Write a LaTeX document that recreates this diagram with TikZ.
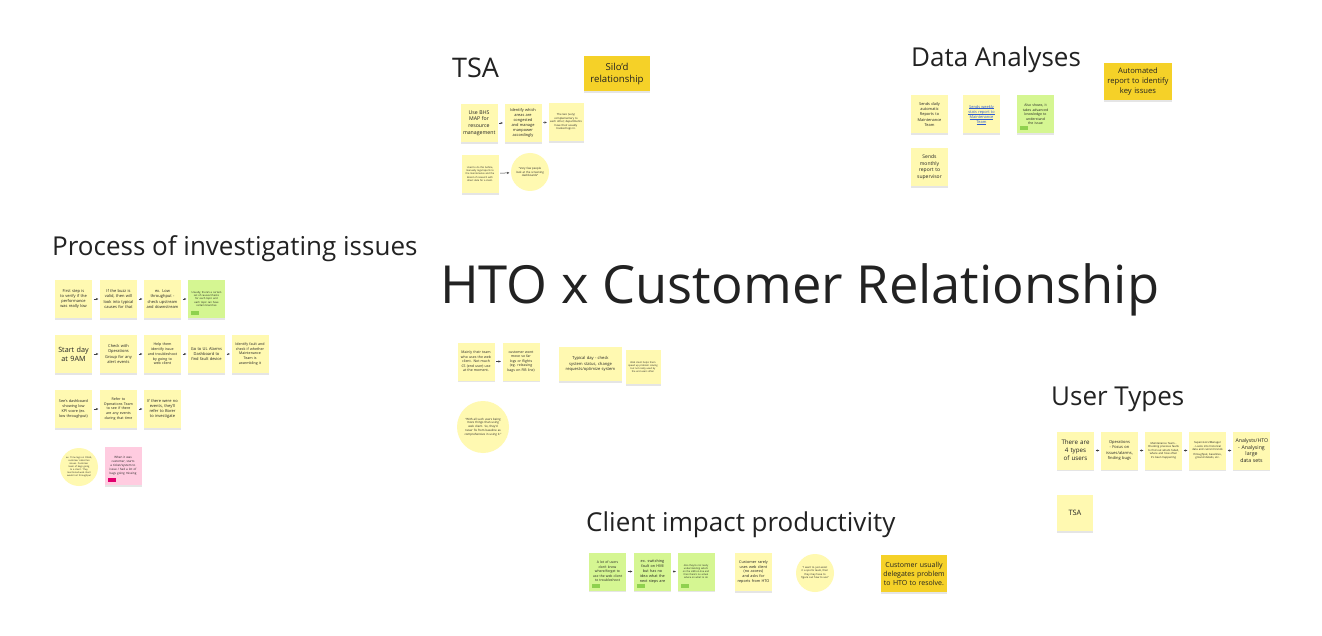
\documentclass[tikz,border=0pt]{standalone}
\usepackage{fontspec}
\setmainfont{Open Sans}
\usetikzlibrary{arrows.meta,shadows}

\definecolor{noteyellow}{HTML}{FFF9B1}
\definecolor{notegreen}{HTML}{D5F692}
\definecolor{notepink}{HTML}{FFCCE0}
\definecolor{notegold}{HTML}{F5D128}
\definecolor{taggreen}{HTML}{8FD14F}
\definecolor{tagpink}{HTML}{E0006E}
\definecolor{inkgray}{HTML}{222222}
\definecolor{linkblue}{HTML}{2D5BD0}

\newcommand{\fsz}[1]{\fontsize{#1}{\dimexpr #1pt*13/10\relax}\selectfont}
\newcommand{\ulined}[1]{\leavevmode\setbox0\hbox{#1}\rlap{\rule[-0.7pt]{\wd0}{0.25pt}}\box0}
\hyphenpenalty=10000
\exhyphenpenalty=10000
\tolerance=9999
\emergencystretch=4pt

\tikzset{
  note/.style={fill=noteyellow, minimum width=37, minimum height=38, text width=32,
    align=center, inner sep=1, text=inkgray, font=\fontsize{4}{5.2}\selectfont,
    drop shadow={shadow xshift=0pt, shadow yshift=-1.6pt, opacity=.2}},
  greennote/.style={note, fill=notegreen},
  pinknote/.style={note, fill=notepink},
  goldnote/.style={note, fill=notegold, minimum width=67, minimum height=36, text width=62},
  bubble/.style={circle, fill=noteyellow, minimum size=38, text width=28, align=center,
    inner sep=0, text=inkgray, font=\fontsize{2.8}{3.6}\selectfont},
  tag/.style={fill=#1, minimum width=8, minimum height=4, inner sep=0, anchor=south west},
  heading/.style={font=\fontsize{26}{30}\selectfont, text=inkgray, inner sep=0, anchor=base west},
  link/.style={-{Stealth[length=2.4pt,width=2.2pt]}, line width=0.5pt, draw=inkgray!85,
    shorten <=1.5pt, shorten >=1.5pt}
}

\begin{document}
\begin{tikzpicture}[x=1pt,y=-1pt]
\fill[white] (0,0) rectangle (1322,636);
\useasboundingbox (0,0) rectangle (1322,636);

% main title
\node[heading, font=\fontsize{52.5}{60}\selectfont] (main) at (440,304) {HTO x Customer Relationship};

% TSA
\node[heading, font=\fontsize{27}{32}\selectfont] (tsa) at (452,78) {TSA};
\node[goldnote, minimum width=66, minimum height=35, font=\fsz{9.6}] (silo) at (617,74) {Silo'd\\relationship};
\node[note, font=\fsz{5.2}] (s1) at (479,123) {Use BHS MAP for resource management};
\node[note, font=\fsz{3.9}] (s2) at (523,123) {Identify which areas are congested and manage manpower accordingly};
\node[note, minimum width=35, font=\fsz{2.7}] (s3) at (566,122) {The two (very) complementary to each other; departments have their usually tracked logs in.};
\node[note, font=\fsz{2.4}] (s4) at (480,174) {Used to do this before, manually logs/reports to the maintenance and the Board of research with direct data for a client.};
\node[bubble] (sb) at (530,172) {``Very few people look at the screening dashboards''};
\draw[link] (s1) -- (s2);
\draw[link] (s2) -- (s3);
\draw[link] (s4) -- (sb);

% Data Analyses
\node[heading] (data) at (911,67) {Data Analyses};
\node[goldnote, minimum width=68, minimum height=37, font=\fsz{7.6}] (auto) at (1138,81.5) {Automated\\report to identify key issues};
\node[note, font=\fsz{3.9}] (d1) at (929.5,114.5) {Sends daily automatic Reports to Maintenance Team};
\node[note, font=\fsz{3.9}, text=linkblue] (d2) at (981.5,114.5) {\ulined{Sends weekly}\\\ulined{stats report to}\\\ulined{Maintenance}\\\ulined{Team}};
\node[greennote, font=\fsz{3.5}] (d3) at (1035.5,114.5) {Also shows, it takes advanced knowledge to understand the issue};
\node[tag=taggreen] at ([shift={(3,-3)}]d3.south west) {};
\node[note, font=\fsz{5}] (d4) at (929.5,167) {Sends monthly report to supervisor};

% Process of investigating issues
\node[heading] (proc) at (52,256) {Process of investigating issues};
\node[note] (p1) at (73.5,299) {First step is to verify if the performance was really low};
\node[note] (p2) at (118.5,299) {If the buzz is valid, then will look into typical causes for that};
\node[note] (p3) at (162.5,299) {ex. Low throughput - check upstream and downstream};
\node[greennote, font=\fsz{2.6}] (p4) at (206.5,299) {Usually, there's a certain set of causes/checks for each topic and each topic can have certain branches};
\node[tag=taggreen] at ([shift={(3,-3)}]p4.south west) {};
\draw[link] (p1) -- (p2);
\draw[link] (p2) -- (p3);
\draw[link] (p3) -- (p4);

\node[note, font=\fsz{7.2}] (q1) at (73.5,354) {Start day at 9AM};
\node[note] (q2) at (118.5,354) {Check with Operations Group for any alert events};
\node[note, font=\fsz{3.6}] (q3) at (162.5,354) {Help them identify issue and troubleshoot by going to web client};
\node[note] (q4) at (206.5,354) {Go to UL Alarms Dashboard to find fault device};
\node[note, font=\fsz{3.6}] (q5) at (250,354) {Identify fault and check if whether Maintenance Team is assembling it};
\draw[link] (q1) -- (q2);
\draw[link] (q2) -- (q3);
\draw[link] (q3) -- (q4);
\draw[link] (q4) -- (q5);

\node[note, font=\fsz{3.8}] (r1) at (73.5,409) {See's dashboard showing low KPI score (ex. low throughput)};
\node[note, font=\fsz{3.6}] (r2) at (118.5,409) {Refer to Operations Team to see if there are any events during that time};
\node[note] (r3) at (162.5,409) {If there were no events, they'll refer to Borer to investigate};
\draw[link] (r1) -- (r2);
\draw[link] (r2) -- (r3);

\node[bubble, font=\fsz{2.3}] (rb) at (79,467) {ex. Time lags on OSHA, customer called ten issues. Customer team of bags going to a client. They mentioned web client would not throughput};
\node[pinknote, font=\fsz{3}] (rp) at (123,466) {When it was customer, starts a ticket/system to issue / had a lot of bags going missing};
\node[tag=tagpink] at ([shift={(3,-3)}]rp.south west) {};

% middle group
\node[note, font=\fsz{3.5}] (c1) at (476,361.5) {Mainly their team who uses the web client. Not much CS (end user) use at the moment.};
\node[note, font=\fsz{3.5}] (c2) at (521,361.5) {customer wont move so far logs or flights (eg. releasing bags on FIB line)};
\node[note, minimum width=63, minimum height=34, text width=58, font=\fsz{4.1}] (c3) at (590.5,364) {Typical day - check system status, change requests/optimize system};
\node[note, minimum width=35, minimum height=34, font=\fsz{2.4}] (c4) at (643,367) {Web client helps them speed up problem solving but not really used by the end users often};
\node[bubble, minimum size=52, text width=40, font=\fsz{2.9}] (cb) at (483,427) {``With all such users being more things than using web client. So, they'd never fix from baseline as comprehensive in using it.''};
\draw[link] (c1) -- (c2);

% User Types
\node[heading] (users) at (1051,405) {User Types};
\node[note, font=\fsz{6.2}] (u1) at (1075.5,450.5) {There are 4 types of users};
\node[note, font=\fsz{4}] (u2) at (1119.5,450.5) {Operations - Focus on issues/alarms, finding bugs};
\node[note, font=\fsz{2.7}] (u3) at (1163.5,450.5) {Maintenance Team - Checking previous faults to find out what's failed, where and how often it's been happening};
\node[note, font=\fsz{2.7}] (u4) at (1207.5,450.5) {Supervisors/Manager - Looks into historical data and current trends\\[1pt] throughput, baselines, ground details, etc.};
\node[note, font=\fsz{5.2}] (u5) at (1251.5,450.5) {Analysts/HTO - Analysing large data sets};
\draw[link] (u1) -- (u2);
\draw[link] (u2) -- (u3);
\draw[link] (u3) -- (u4);
\draw[link] (u4) -- (u5);
\node[note, minimum width=36, minimum height=36, font=\fsz{7.4}] (ut) at (1075,513) {TSA};

% Client impact productivity
\node[heading] (client) at (586,531) {Client impact productivity};
\node[greennote, font=\fsz{3.4}] (g1) at (607.5,571.5) {A lot of users don't know where/forget to use the web client to troubleshoot};
\node[tag=taggreen] at ([shift={(3,-3)}]g1.south west) {};
\node[greennote, font=\fsz{3.8}] (g2) at (652.5,571.5) {ex. switching fault on HMI but has no idea what the next steps are};
\node[tag=taggreen] at ([shift={(3,-3)}]g2.south west) {};
\node[greennote, font=\fsz{2.4}] (g3) at (696,571.5) {Also they're not really understanding what's on the HMI on-line and then there's no actual advice on what to do};
\node[tag=taggreen] at ([shift={(3,-3)}]g3.south west) {};
\draw[link] (g1) -- (g2);
\draw[link] (g2) -- (g3);
\node[note, font=\fsz{3.8}] (gy) at (753.5,572) {Customer rarely uses web client (no access) and asks for reports from HTO};
\node[bubble, font=\fsz{2.6}] (gb) at (815,573) {``I want to just assist it a sports team, then they may have to figure out how to use''};
\node[goldnote, minimum width=66, minimum height=37, text width=64, font=\fsz{7}] (gold) at (914,573.5) {Customer usually\\delegates problem\\to HTO to resolve.};
\end{tikzpicture}
\end{document}
